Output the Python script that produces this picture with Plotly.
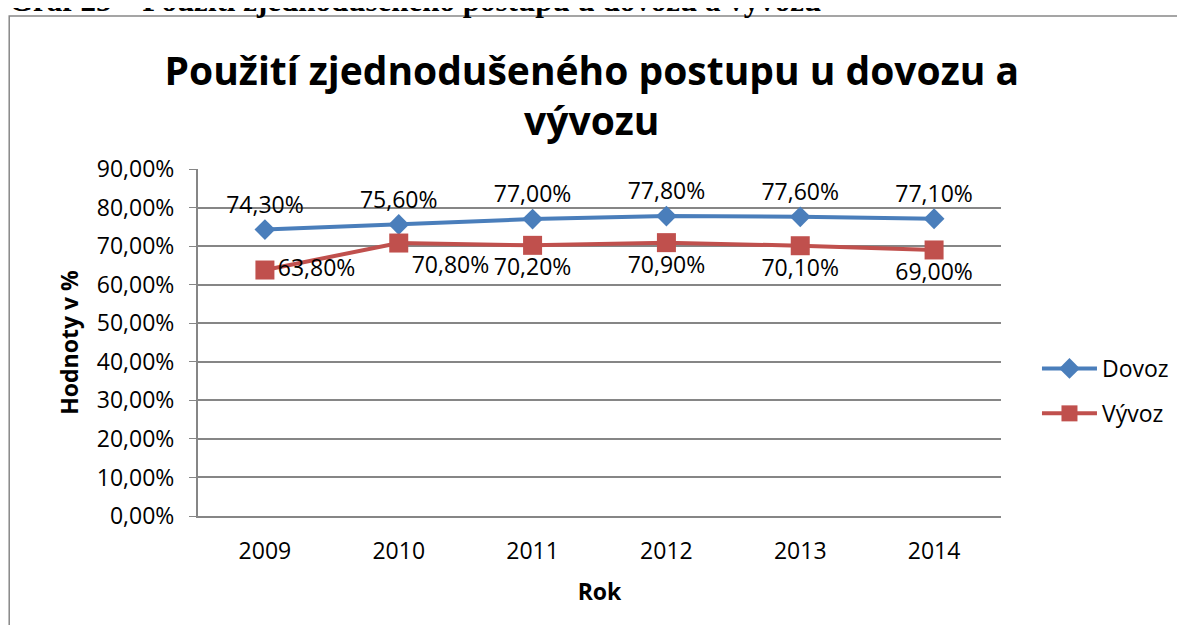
import plotly.graph_objects as go

# data
roky = ["2009", "2010", "2011", "2012", "2013", "2014"]
dovoz = [74.3, 75.6, 77.0, 77.8, 77.6, 77.1]
vyvoz = [63.8, 70.8, 70.2, 70.9, 70.1, 69.0]

dovoz_pos = ["top center"] * 6
vyvoz_pos = ["middle right", "bottom right", "bottom center", "bottom center", "bottom center", "bottom center"]

font = "Open Sans, Noto Sans, sans-serif"
grid = "#868686"

fig = go.Figure()

fig.add_trace(go.Scatter(
    x=roky, y=dovoz, name="Dovoz", legendgroup="d",
    mode="lines+markers+text", cliponaxis=False,
    line=dict(color="#4A7EBB", width=4),
    marker=dict(symbol="diamond", size=16, color="#4A7EBB"),
    texttemplate="%{y:.2f}%", textposition=dovoz_pos,
    textfont=dict(size=23, color="black", family=font),
))

fig.add_trace(go.Scatter(
    x=roky, y=vyvoz, name="Vývoz", legendgroup="v",
    mode="lines+markers+text", cliponaxis=False,
    line=dict(color="#C0504D", width=4),
    marker=dict(symbol="square", size=19, color="#C0504D"),
    texttemplate="%{y:.2f}%", textposition=vyvoz_pos,
    textfont=dict(size=23, color="black", family=font),
))

fig.update_layout(
    width=1177, height=617,
    margin=dict(l=190, r=183, t=161, b=109),
    paper_bgcolor="white", plot_bgcolor="white",
    separators=", ",
    font=dict(family=font, size=23, color="black"),
    title=dict(
        text="<b>Použití zjednodušeného postupu u dovozu a<br>vývozu</b>",
        x=0.496, xanchor="center", y=0.876, yanchor="middle",
        font=dict(size=39, family=font, color="black"),
    ),
    legend=dict(
        x=1.0435, y=0.487, xanchor="left", yanchor="top",
        font=dict(size=23, family=font),
        traceorder="grouped", tracegroupgap=12,
        itemwidth=55, bgcolor="rgba(0,0,0,0)",
    ),
    showlegend=True,
)

fig.update_xaxes(
    type="category", range=[-0.5, 5.5],
    showline=True, linecolor=grid, linewidth=2,
    showgrid=False, ticks="",
    tickfont=dict(size=23), ticklabelstandoff=13,
    title=dict(text="<b>Rok</b>", font=dict(size=23), standoff=19),
)

fig.update_yaxes(
    range=[0, 90], dtick=10, tickformat=".2f", ticksuffix="%",
    showline=True, linecolor=grid, linewidth=2,
    showgrid=True, gridcolor=grid, gridwidth=1.5,
    ticks="outside", ticklen=7, tickcolor=grid,
    tickfont=dict(size=23), ticklabelstandoff=10,
    title=dict(text="<b>Hodnoty v %</b>", font=dict(size=23), standoff=12),
    zeroline=False,
)

# outer chart frame
fig.add_shape(type="rect", xref="paper", yref="paper",
              x0=-0.2351, x1=1.25, y0=-0.40, y1=1.441,
              line=dict(color="#888888", width=1.5), layer="below")

# document caption, cut off at the top edge
fig.add_annotation(
    text="<b>Graf 25 – Použití zjednodušeného postupu u dovozu a vývozu</b>",
    xref="paper", yref="paper", x=-0.2363, y=1.432,
    xanchor="left", yanchor="bottom", showarrow=False, borderpad=0,
    font=dict(family="Liberation Serif, Times New Roman, serif", size=31, color="black"),
)

fig.write_html("out.html")
